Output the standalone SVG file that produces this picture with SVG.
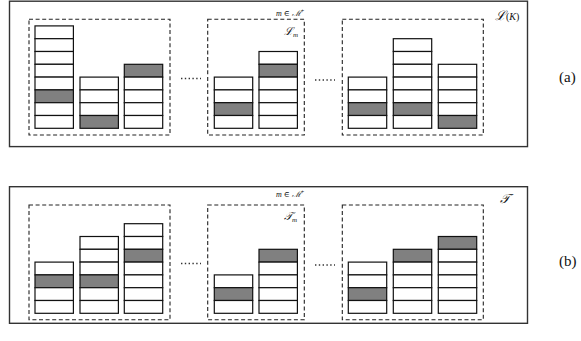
<svg xmlns="http://www.w3.org/2000/svg" width="581" height="341" viewBox="0 0 581 341">
<style>
.outer{fill:none;stroke:#333;stroke-width:1.4}
.dash{fill:none;stroke:#222;stroke-width:1.1;stroke-dasharray:4,2.6}
.c rect{stroke:#111;stroke-width:1.2;fill:#fff}
.c rect.s{fill:#808080}
.dots{stroke:#333;stroke-width:1.6;stroke-dasharray:1.4,2.4}
text{font-family:'Liberation Serif','DejaVu Serif',serif;fill:#111}
.m{font-style:italic}
</style>
<rect width="581" height="341" fill="#fff"/>
<g id="panelA">
<rect class="outer" x="9.5" y="1.2" width="518" height="145.4"/>
<g id="a-box1">
<rect class="dash" x="29" y="19.3" width="141" height="115.7"/>
<g class="c">
<rect x="35" y="25.9" width="38.4" height="12.8"/><rect x="35" y="38.7" width="38.4" height="12.8"/><rect x="35" y="51.5" width="38.4" height="12.8"/><rect x="35" y="64.3" width="38.4" height="12.8"/><rect x="35" y="77.1" width="38.4" height="12.8"/><rect class="s" x="35" y="89.9" width="38.4" height="12.8"/><rect x="35" y="102.7" width="38.4" height="12.8"/><rect x="35" y="115.5" width="38.4" height="12.8"/>
<rect x="80" y="77.1" width="38.4" height="12.8"/><rect x="80" y="89.9" width="38.4" height="12.8"/><rect x="80" y="102.7" width="38.4" height="12.8"/><rect class="s" x="80" y="115.5" width="38.4" height="12.8"/>
<rect class="s" x="124.3" y="64.3" width="38.4" height="12.8"/><rect x="124.3" y="77.1" width="38.4" height="12.8"/><rect x="124.3" y="89.9" width="38.4" height="12.8"/><rect x="124.3" y="102.7" width="38.4" height="12.8"/><rect x="124.3" y="115.5" width="38.4" height="12.8"/>
</g>
</g>
<g id="a-box2">
<rect class="dash" x="207.7" y="19.3" width="96.6" height="115.7"/>
<text x="276" y="15.5" font-size="8" font-family="Liberation Serif, DejaVu Serif, serif"><tspan font-style="italic">m</tspan> ∈ <tspan font-style="italic">ℳ</tspan><tspan font-size="6" dy="-3">+</tspan></text>
<text x="284" y="35" font-size="11" font-style="italic" font-family="Liberation Serif, DejaVu Serif, serif">ℒ<tspan font-size="7" dy="2">m</tspan></text>
<g class="c">
<rect x="214.3" y="77.1" width="38.4" height="12.8"/><rect x="214.3" y="89.9" width="38.4" height="12.8"/><rect class="s" x="214.3" y="102.7" width="38.4" height="12.8"/><rect x="214.3" y="115.5" width="38.4" height="12.8"/>
<rect x="259" y="51.5" width="38.4" height="12.8"/><rect class="s" x="259" y="64.3" width="38.4" height="12.8"/><rect x="259" y="77.1" width="38.4" height="12.8"/><rect x="259" y="89.9" width="38.4" height="12.8"/><rect x="259" y="102.7" width="38.4" height="12.8"/><rect x="259" y="115.5" width="38.4" height="12.8"/>
</g>
</g>
<g id="a-box3">
<rect class="dash" x="342.3" y="19.3" width="141" height="115.7"/>
<g class="c">
<rect x="348.3" y="77.1" width="38.4" height="12.8"/><rect x="348.3" y="89.9" width="38.4" height="12.8"/><rect class="s" x="348.3" y="102.7" width="38.4" height="12.8"/><rect x="348.3" y="115.5" width="38.4" height="12.8"/>
<rect x="393.3" y="38.7" width="38.4" height="12.8"/><rect x="393.3" y="51.5" width="38.4" height="12.8"/><rect x="393.3" y="64.3" width="38.4" height="12.8"/><rect x="393.3" y="77.1" width="38.4" height="12.8"/><rect x="393.3" y="89.9" width="38.4" height="12.8"/><rect class="s" x="393.3" y="102.7" width="38.4" height="12.8"/><rect x="393.3" y="115.5" width="38.4" height="12.8"/>
<rect x="438.3" y="64.3" width="38.4" height="12.8"/><rect x="438.3" y="77.1" width="38.4" height="12.8"/><rect x="438.3" y="89.9" width="38.4" height="12.8"/><rect x="438.3" y="102.7" width="38.4" height="12.8"/><rect class="s" x="438.3" y="115.5" width="38.4" height="12.8"/>
</g>
</g>
<line class="dots" x1="181" y1="78.5" x2="201" y2="78.5"/>
<line class="dots" x1="315" y1="80" x2="335" y2="80"/>
<text x="495" y="20" font-size="13" font-style="italic" font-family="Liberation Serif, DejaVu Serif, serif">ℒ<tspan font-size="10" font-style="normal">(</tspan><tspan font-size="10">K</tspan><tspan font-size="10" font-style="normal">)</tspan></text>
<text x="559" y="82" font-size="15" font-family="Liberation Serif, Times New Roman, serif">(a)</text>
</g>
<g id="panelB">
<rect class="outer" x="9.5" y="186.7" width="518" height="136.6"/>
<g id="b-box1">
<rect class="dash" x="29" y="205" width="141" height="114.8"/>
<g class="c">
<rect x="35" y="262.1" width="38.4" height="12.8"/><rect class="s" x="35" y="274.9" width="38.4" height="12.8"/><rect x="35" y="287.7" width="38.4" height="12.8"/><rect x="35" y="300.5" width="38.4" height="12.8"/>
<rect x="80" y="236.5" width="38.4" height="12.8"/><rect x="80" y="249.3" width="38.4" height="12.8"/><rect x="80" y="262.1" width="38.4" height="12.8"/><rect class="s" x="80" y="274.9" width="38.4" height="12.8"/><rect x="80" y="287.7" width="38.4" height="12.8"/><rect x="80" y="300.5" width="38.4" height="12.8"/>
<rect x="124.3" y="223.7" width="38.4" height="12.8"/><rect x="124.3" y="236.5" width="38.4" height="12.8"/><rect class="s" x="124.3" y="249.3" width="38.4" height="12.8"/><rect x="124.3" y="262.1" width="38.4" height="12.8"/><rect x="124.3" y="274.9" width="38.4" height="12.8"/><rect x="124.3" y="287.7" width="38.4" height="12.8"/><rect x="124.3" y="300.5" width="38.4" height="12.8"/>
</g>
</g>
<g id="b-box2">
<rect class="dash" x="207.7" y="205" width="96.6" height="114.8"/>
<text x="276" y="197" font-size="8" font-family="Liberation Serif, DejaVu Serif, serif"><tspan font-style="italic">m</tspan> ∈ <tspan font-style="italic">ℳ</tspan><tspan font-size="6" dy="-3">+</tspan></text>
<text x="284" y="220" font-size="11" font-style="italic" font-family="Liberation Serif, DejaVu Serif, serif">𝒯<tspan font-size="7" dy="2">m</tspan></text>
<g class="c">
<rect x="214.3" y="274.9" width="38.4" height="12.8"/><rect class="s" x="214.3" y="287.7" width="38.4" height="12.8"/><rect x="214.3" y="300.5" width="38.4" height="12.8"/>
<rect class="s" x="259" y="249.3" width="38.4" height="12.8"/><rect x="259" y="262.1" width="38.4" height="12.8"/><rect x="259" y="274.9" width="38.4" height="12.8"/><rect x="259" y="287.7" width="38.4" height="12.8"/><rect x="259" y="300.5" width="38.4" height="12.8"/>
</g>
</g>
<g id="b-box3">
<rect class="dash" x="342.3" y="205" width="141" height="114.8"/>
<g class="c">
<rect x="348.3" y="262.1" width="38.4" height="12.8"/><rect x="348.3" y="274.9" width="38.4" height="12.8"/><rect class="s" x="348.3" y="287.7" width="38.4" height="12.8"/><rect x="348.3" y="300.5" width="38.4" height="12.8"/>
<rect class="s" x="393.3" y="249.3" width="38.4" height="12.8"/><rect x="393.3" y="262.1" width="38.4" height="12.8"/><rect x="393.3" y="274.9" width="38.4" height="12.8"/><rect x="393.3" y="287.7" width="38.4" height="12.8"/><rect x="393.3" y="300.5" width="38.4" height="12.8"/>
<rect class="s" x="438.3" y="236.5" width="38.4" height="12.8"/><rect x="438.3" y="249.3" width="38.4" height="12.8"/><rect x="438.3" y="262.1" width="38.4" height="12.8"/><rect x="438.3" y="274.9" width="38.4" height="12.8"/><rect x="438.3" y="287.7" width="38.4" height="12.8"/><rect x="438.3" y="300.5" width="38.4" height="12.8"/>
</g>
</g>
<line class="dots" x1="181" y1="263.5" x2="201" y2="263.5"/>
<line class="dots" x1="315" y1="265" x2="335" y2="265"/>
<text x="500" y="203" font-size="13" font-style="italic" font-family="Liberation Serif, DejaVu Serif, serif">𝒯</text>
<text x="559" y="266" font-size="15" font-family="Liberation Serif, Times New Roman, serif">(b)</text>
</g>
</svg>
